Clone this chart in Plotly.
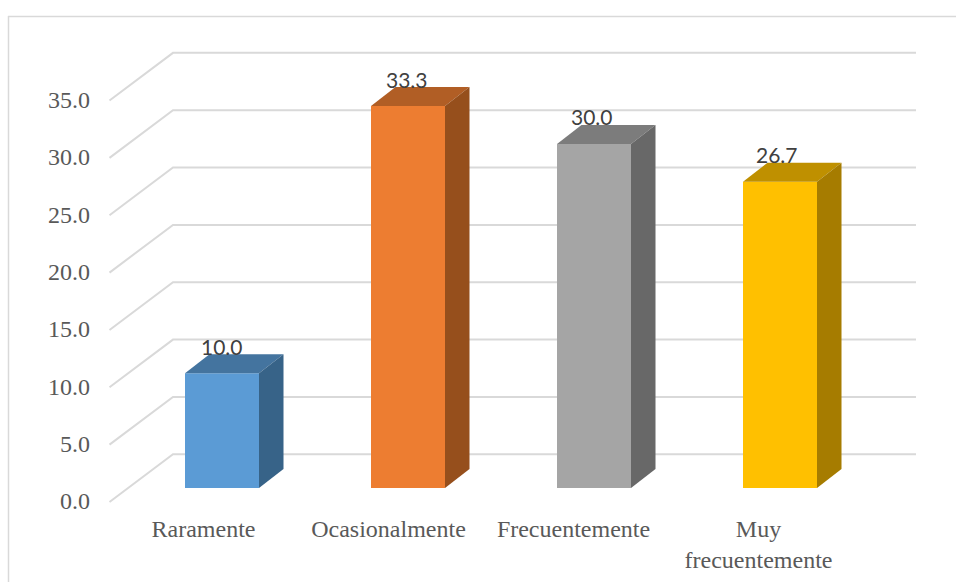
import plotly.graph_objects as go

categories = ["Raramente", "Ocasionalmente", "Frecuentemente", "Muy<br>frecuentemente"]
values = [10.0, 33.3, 30.0, 26.7]
front_colors = ["#5B9BD5", "#ED7D31", "#A5A5A5", "#FFC000"]
top_colors = ["#44749F", "#B15E25", "#7C7C7C", "#BF9000"]
side_colors = ["#376388", "#964F1C", "#686868", "#A67C00"]
tick_values = [0, 5, 10, 15, 20, 25, 30, 35]

W, H = 956, 582
PX_PER_UNIT_Y = 11.47
PX_PER_UNIT_X = 186.0
X0_PX = 222.0           # pixel of the first bar's centre
FRONT_ZERO_PX = 502.0   # front plane value 0
BAR_ZERO_PX = 488.0     # bar plane value 0
BACK_ZERO_PX = 454.3    # back wall value 0

BAR_WIDTH = 74.0 / PX_PER_UNIT_X
DX = 24.5 / PX_PER_UNIT_X
DY = 19.0 / PX_PER_UNIT_Y
WALL_DY = (FRONT_ZERO_PX - BACK_ZERO_PX) / PX_PER_UNIT_Y


def xpx(p):
    return (p - X0_PX) / PX_PER_UNIT_X


def yrange(zero):
    return [(zero - H) / PX_PER_UNIT_Y, zero / PX_PER_UNIT_Y]


fig = go.Figure()

# Walls: diagonal from the front plane to the back wall, then across the wall
wx, wy = [], []
for v in tick_values:
    wx += [xpx(109.5), xpx(173), xpx(916), None]
    wy += [v, v + WALL_DY, v + WALL_DY, None]
fig.add_trace(go.Scatter(x=wx, y=wy, mode="lines", line=dict(color="#D9D9D9", width=2),
                         hoverinfo="skip", showlegend=False, yaxis="y"))

xs = list(range(len(values)))
fig.add_trace(go.Bar(x=xs, y=values, width=BAR_WIDTH, marker=dict(color=front_colors, line_width=0),
                     yaxis="y2", showlegend=False))

for i, v in enumerate(values):
    l, r = i - BAR_WIDTH / 2, i + BAR_WIDTH / 2
    fig.add_trace(go.Scatter(x=[l, r, r + DX, l + DX, l], y=[v, v, v + DY, v + DY, v],
                             mode="lines", fill="toself", fillcolor=top_colors[i],
                             line=dict(width=0), hoverinfo="skip", showlegend=False, yaxis="y2"))
    fig.add_trace(go.Scatter(x=[r, r + DX, r + DX, r, r], y=[0, DY, v + DY, v, 0],
                             mode="lines", fill="toself", fillcolor=side_colors[i],
                             line=dict(width=0), hoverinfo="skip", showlegend=False, yaxis="y2"))
    fig.add_annotation(x=i, y=v, xref="x", yref="y2", yshift=27, xshift=-i, text=f"{v:.1f}", showarrow=False,
                       font=dict(family="Lato", size=21, color="#404040"))

fig.update_layout(
    width=W, height=H, margin=dict(l=0, r=0, t=0, b=0),
    paper_bgcolor="white", plot_bgcolor="white", showlegend=False,
    xaxis=dict(range=[xpx(0), xpx(W)], domain=[0, 1], anchor="free", position=(H - 512) / H,
               tickmode="array", tickvals=[xpx(203.5 + 185 * i) for i in xs], ticktext=categories,
               showgrid=False, zeroline=False, showline=False, ticks="",
               tickangle=0, automargin=False,
               tickfont=dict(family="Liberation Serif", size=24, color="#595959")),
    yaxis=dict(range=yrange(FRONT_ZERO_PX), domain=[0, 1], anchor="free", position=90 / W,
               side="left", tickmode="array", tickvals=tick_values,
               ticktext=[f"{v:.1f}" for v in tick_values], ticklabelshift=-1,
               showgrid=False, zeroline=False, showline=False, ticks="", automargin=False,
               tickfont=dict(family="Liberation Serif", size=24, color="#595959")),
    yaxis2=dict(range=yrange(BAR_ZERO_PX), domain=[0, 1], overlaying="y", visible=False),
    shapes=[
        dict(type="line", xref="paper", yref="paper", x0=8.5 / W, x1=8.5 / W, y0=0, y1=(H - 16) / H,
             line=dict(color="#D9D9D9", width=1.5)),
        dict(type="line", xref="paper", yref="paper", x0=8 / W, x1=1, y0=(H - 16.5) / H, y1=(H - 16.5) / H,
             line=dict(color="#D9D9D9", width=1.5)),
    ],
)

fig.write_html("out.html", config={"displayModeBar": False},
               post_script="document.body.style.margin='0';document.body.style.overflow='hidden';")
